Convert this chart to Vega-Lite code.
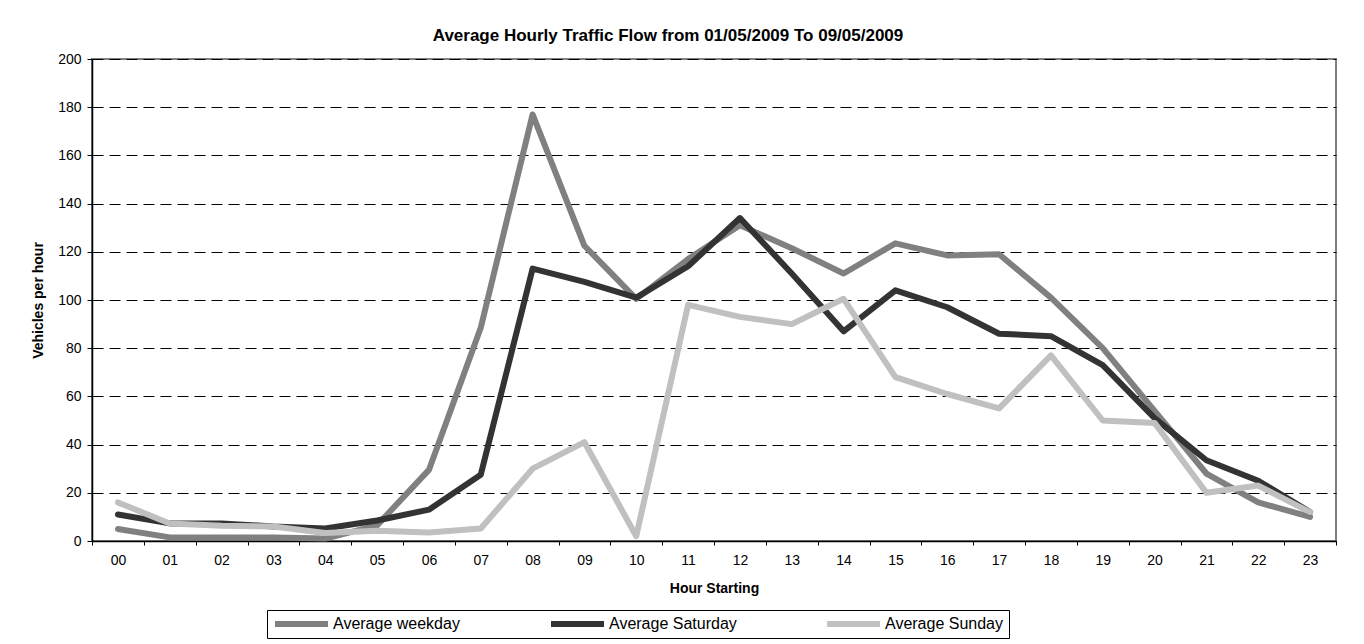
{
  "$schema": "https://vega.github.io/schema/vega-lite/v6.json",
  "width": 1244,
  "height": 482,
  "autosize": {"type": "none"},
  "padding": {"left": 92, "top": 59, "right": 28, "bottom": 103},
  "background": "white",
  "title": {
    "text": "Average Hourly Traffic Flow from 01/05/2009 To 09/05/2009",
    "font": "Liberation Sans",
    "fontSize": 17,
    "fontWeight": "bold",
    "color": "black",
    "anchor": "middle",
    "frame": "group",
    "dx": -46,
    "baseline": "alphabetic",
    "offset": -6
  },
  "data": {
    "values": [
      {"hour": "00", "Average weekday": 5, "Average Saturday": 11, "Average Sunday": 16},
      {"hour": "01", "Average weekday": 1.5, "Average Saturday": 7.3, "Average Sunday": 7.3},
      {"hour": "02", "Average weekday": 1.5, "Average Saturday": 7.3, "Average Sunday": 6.3},
      {"hour": "03", "Average weekday": 1.5, "Average Saturday": 6, "Average Sunday": 6},
      {"hour": "04", "Average weekday": 1, "Average Saturday": 5.2, "Average Sunday": 3.3},
      {"hour": "05", "Average weekday": 6.5, "Average Saturday": 8.5, "Average Sunday": 4.3},
      {"hour": "06", "Average weekday": 29.5, "Average Saturday": 13, "Average Sunday": 3.5},
      {"hour": "07", "Average weekday": 88.5, "Average Saturday": 27.5, "Average Sunday": 5.2},
      {"hour": "08", "Average weekday": 177, "Average Saturday": 113, "Average Sunday": 30},
      {"hour": "09", "Average weekday": 122.5, "Average Saturday": 107.5, "Average Sunday": 41},
      {"hour": "10", "Average weekday": 100.5, "Average Saturday": 101, "Average Sunday": 2},
      {"hour": "11", "Average weekday": 117, "Average Saturday": 114, "Average Sunday": 98},
      {"hour": "12", "Average weekday": 131, "Average Saturday": 134, "Average Sunday": 93},
      {"hour": "13", "Average weekday": 121.5, "Average Saturday": 111, "Average Sunday": 90},
      {"hour": "14", "Average weekday": 111, "Average Saturday": 87, "Average Sunday": 100.5},
      {"hour": "15", "Average weekday": 123.5, "Average Saturday": 104, "Average Sunday": 68},
      {"hour": "16", "Average weekday": 118.5, "Average Saturday": 97, "Average Sunday": 61},
      {"hour": "17", "Average weekday": 119, "Average Saturday": 86, "Average Sunday": 55},
      {"hour": "18", "Average weekday": 101, "Average Saturday": 85, "Average Sunday": 77},
      {"hour": "19", "Average weekday": 80, "Average Saturday": 73, "Average Sunday": 50},
      {"hour": "20", "Average weekday": 54, "Average Saturday": 51, "Average Sunday": 49},
      {"hour": "21", "Average weekday": 28, "Average Saturday": 33.5, "Average Sunday": 20},
      {"hour": "22", "Average weekday": 16, "Average Saturday": 25, "Average Sunday": 23},
      {"hour": "23", "Average weekday": 10, "Average Saturday": 12, "Average Sunday": 12}
    ]
  },
  "transform": [
    {"fold": ["Average weekday", "Average Saturday", "Average Sunday"], "as": ["series", "value"]}
  ],
  "mark": {"type": "line", "strokeWidth": 6, "strokeCap": "round", "strokeJoin": "round"},
  "encoding": {
    "x": {
      "field": "hour",
      "type": "ordinal",
      "bandPosition": 0.5,
      "scale": {"type": "band", "paddingInner": 0, "paddingOuter": 0},
      "axis": {
        "title": "Hour Starting",
        "titleFont": "Liberation Sans",
        "titleFontSize": 14,
        "titleFontWeight": "bold",
        "titleColor": "black",
        "titleY": 47,
        "titleBaseline": "middle",
        "labelFont": "Liberation Sans",
        "labelFontSize": 14,
        "labelColor": "black",
        "labelAngle": 0,
        "labelPadding": 8,
        "tickBand": "extent",
        "tickSize": 4,
        "tickColor": "black",
        "domainColor": "black",
        "domainWidth": 1.5,
        "grid": false
      }
    },
    "y": {
      "field": "value",
      "type": "quantitative",
      "scale": {"domain": [0, 200], "nice": false},
      "axis": {
        "title": "Vehicles per hour",
        "titleFont": "Liberation Sans",
        "titleFontSize": 14,
        "titleFontWeight": "bold",
        "titleColor": "black",
        "titleX": -54,
        "titleY": 241,
        "titleAngle": -90,
        "titleAlign": "center",
        "titleBaseline": "middle",
        "values": [0, 20, 40, 60, 80, 100, 120, 140, 160, 180, 200],
        "labelFont": "Liberation Sans",
        "labelFontSize": 14,
        "labelColor": "black",
        "labelPadding": 6,
        "tickSize": 5,
        "tickColor": "black",
        "domainColor": "black",
        "domainWidth": 1.5,
        "grid": true,
        "gridColor": "black",
        "gridDash": [11, 6]
      }
    },
    "color": {
      "field": "series",
      "type": "nominal",
      "scale": {
        "domain": ["Average weekday", "Average Saturday", "Average Sunday"],
        "range": ["#808080", "#333333", "#c0c0c0"]
      },
      "legend": {
        "title": null,
        "orient": "none",
        "legendX": 175,
        "legendY": 551,
        "direction": "horizontal",
        "columns": 3,
        "gridAlign": "all",
        "columnPadding": 87,
        "padding": 5,
        "clipHeight": 18,
        "strokeColor": "black",
        "fillColor": "white",
        "symbolType": "stroke",
        "symbolSize": 2809,
        "symbolStrokeWidth": 6,
        "labelFont": "Liberation Sans",
        "labelFontSize": 16,
        "labelColor": "black",
        "labelOffset": 2,
        "labelLimit": 300
      }
    }
  },
  "config": {
    "view": {"stroke": "#808080", "strokeWidth": 2},
    "font": "Liberation Sans"
  }
}
